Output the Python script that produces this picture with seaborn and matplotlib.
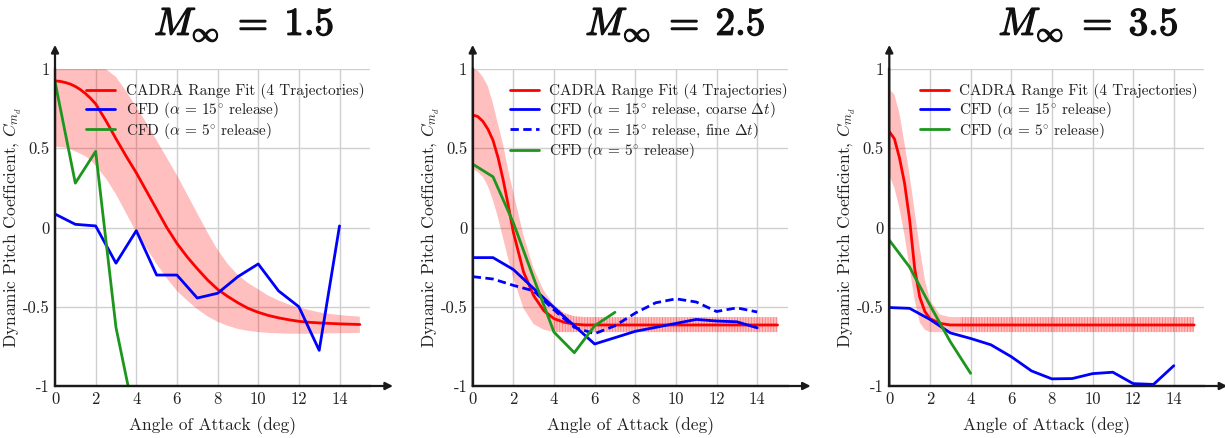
import matplotlib
matplotlib.use("Agg")
import matplotlib.pyplot as plt
import matplotlib.patheffects as pe
import numpy as np
import seaborn as sns

# ---------------- data ----------------
mach_titles = [r"$M_\infty\;=\;\mathbf{1.5}$", r"$M_\infty\;=\;\mathbf{2.5}$", r"$M_\infty\;=\;\mathbf{3.5}$"]

# angles at which the CADRA range fit and its envelope are tabulated (deg)
fit_aoa = [0, 0.25, 0.5, 0.75, 1, 1.25, 1.5, 1.75, 2, 2.5, 3, 3.5, 4, 4.5, 5, 5.5, 6, 6.5,
           7, 7.5, 8, 8.5, 9, 9.5, 10, 10.5, 11, 11.5, 12, 12.5, 13, 13.5, 14, 14.5, 15]

# M = 1.5
fit_m15 = [0.925, 0.922, 0.915, 0.905, 0.89, 0.87, 0.845, 0.815, 0.78, 0.675, 0.56, 0.45,
           0.345, 0.23, 0.115, 0.0, -0.10, -0.185, -0.26, -0.33, -0.39, -0.435, -0.475, -0.51,
           -0.535, -0.555, -0.57, -0.582, -0.592, -0.598, -0.602, -0.605, -0.608, -0.61, -0.612]
hi_m15 = [1.0, 1.0, 1.0, 1.0, 1.0, 1.0, 1.0, 1.0, 1.0, 1.0, 0.95, 0.86, 0.76, 0.66, 0.55, 0.44,
          0.33, 0.21, 0.09, -0.03, -0.14, -0.23, -0.30, -0.35, -0.39, -0.43, -0.46, -0.485,
          -0.505, -0.52, -0.535, -0.545, -0.552, -0.558, -0.562]
lo_m15 = [0.51, 0.508, 0.505, 0.495, 0.48, 0.465, 0.45, 0.425, 0.39, 0.31, 0.21, 0.09, -0.03,
          -0.13, -0.23, -0.32, -0.40, -0.46, -0.515, -0.56, -0.595, -0.62, -0.64, -0.652, -0.66,
          -0.665, -0.668, -0.67, -0.67, -0.67, -0.67, -0.668, -0.667, -0.666, -0.665]

# M = 2.5
fit_m25 = [0.71, 0.70, 0.67, 0.62, 0.55, 0.44, 0.30, 0.14, -0.03, -0.28, -0.43, -0.525, -0.575,
           -0.598, -0.61, -0.615, -0.615, -0.615, -0.615, -0.615, -0.615, -0.615, -0.615, -0.615,
           -0.615, -0.615, -0.615, -0.615, -0.615, -0.615, -0.615, -0.615, -0.615, -0.615, -0.615]
hi_m25 = [1.0, 0.99, 0.95, 0.89, 0.78, 0.65, 0.52, 0.36, 0.22, -0.05, -0.26, -0.40, -0.49, -0.54,
          -0.56, -0.565, -0.565, -0.565, -0.565, -0.565, -0.565, -0.565, -0.565, -0.565, -0.565,
          -0.565, -0.565, -0.565, -0.565, -0.565, -0.565, -0.565, -0.565, -0.565, -0.565]
lo_m25 = [0.37, 0.35, 0.32, 0.26, 0.17, 0.06, -0.07, -0.20, -0.32, -0.51, -0.61, -0.645, -0.66,
          -0.66, -0.66, -0.66, -0.66, -0.66, -0.66, -0.66, -0.66, -0.66, -0.66, -0.66, -0.66,
          -0.66, -0.66, -0.66, -0.66, -0.66, -0.66, -0.66, -0.66, -0.66, -0.66]

# M = 3.5
fit_m35 = [0.605, 0.56, 0.44, 0.28, 0.05, -0.26, -0.44, -0.53, -0.575, -0.605, -0.615, -0.615,
           -0.615, -0.615, -0.615, -0.615, -0.615, -0.615, -0.615, -0.615, -0.615, -0.615, -0.615,
           -0.615, -0.615, -0.615, -0.615, -0.615, -0.615, -0.615, -0.615, -0.615, -0.615, -0.615,
           -0.615]
hi_m35 = [0.87, 0.84, 0.72, 0.53, 0.33, 0.10, -0.13, -0.33, -0.46, -0.55, -0.565, -0.565, -0.565,
          -0.565, -0.565, -0.565, -0.565, -0.565, -0.565, -0.565, -0.565, -0.565, -0.565, -0.565,
          -0.565, -0.565, -0.565, -0.565, -0.565, -0.565, -0.565, -0.565, -0.565, -0.565, -0.565]
lo_m35 = [0.33, 0.25, 0.12, -0.05, -0.26, -0.46, -0.60, -0.645, -0.66, -0.66, -0.66, -0.66, -0.66,
          -0.66, -0.66, -0.66, -0.66, -0.66, -0.66, -0.66, -0.66, -0.66, -0.66, -0.66, -0.66,
          -0.66, -0.66, -0.66, -0.66, -0.66, -0.66, -0.66, -0.66, -0.66, -0.66]

# CFD free-flight samples, one value per degree of angle of attack
cfd15_m15 = [0.085, 0.02, 0.01, -0.225, -0.02, -0.30, -0.30, -0.445, -0.415, -0.31, -0.23,
             -0.40, -0.50, -0.775, 0.01]
cfd5_m15 = [0.92, 0.28, 0.48, -0.63, -1.25]

cfd15_coarse_m25 = [-0.19, -0.19, -0.265, -0.385, -0.505, -0.62, -0.735, -0.695, -0.655,
                    -0.63, -0.605, -0.58, -0.59, -0.595, -0.633]
cfd15_fine_m25 = [-0.31, -0.325, -0.365, -0.40, -0.52, -0.63, -0.67, -0.62, -0.54, -0.475,
                  -0.45, -0.47, -0.53, -0.507, -0.533]
cfd5_m25 = [0.40, 0.32, 0.03, -0.32, -0.66, -0.79, -0.62, -0.535]

cfd15_m35 = [-0.505, -0.51, -0.58, -0.665, -0.70, -0.74, -0.815, -0.905, -0.955, -0.953,
             -0.922, -0.913, -0.985, -0.99, -0.872]
cfd5_m35 = [-0.08, -0.25, -0.49, -0.72, -0.92]

lab_fit = "CADRA Range Fit (4 Trajectories)"
lab_15 = r"CFD ($\alpha\,=\,15^{\circ}$ release)"
lab_5 = r"CFD ($\alpha\,=\,5^{\circ}$ release)"
lab_15c = r"CFD ($\alpha\,=\,15^{\circ}$ release, coarse $\Delta t$)"
lab_15f = r"CFD ($\alpha\,=\,15^{\circ}$ release, fine $\Delta t$)"

x_major = [0, 2, 4, 6, 8, 10, 12, 14]
y_major = [-1, -0.5, 0, 0.5, 1]
y_major_labels = ["-1", "-0.5", "0", "0.5", "1"]

# ---------------- style ----------------
sns.set_theme(style="white")
plt.rcParams.update({
    "font.family": ["cmr10", "DejaVu Serif"],
    "mathtext.fontset": "cm",
    "axes.unicode_minus": False,
    "axes.formatter.use_mathtext": True,
    "hatch.linewidth": 0.7,
})

RED = "#ff0000"
BLUE = "#0000ff"
GREEN = "#1c961c"
BAND = (1.0, 0.0, 0.0, 0.25)
STRIPE = (1.0, 0.0, 0.0, 0.30)
TEXT = "#222222"

fig = plt.figure(figsize=(12.25, 4.38), dpi=100)
W, H = 1225, 438
ax_left = [55, 472.7, 889.3]
axes = [fig.add_axes([l / W, 52 / H, 315 / W, 317 / H]) for l in ax_left]


def style_axes(ax):
    ax.set_xlim(0, 15.5)
    ax.set_ylim(-1, 1)
    for s in ("top", "right"):
        ax.spines[s].set_visible(False)
    for s in ("left", "bottom"):
        ax.spines[s].set_color("k")
        ax.spines[s].set_linewidth(1.6)
    ax.set_xticks(x_major)
    ax.set_xticklabels([str(v) for v in x_major])
    ax.set_xticks(np.arange(1, 16, 2), minor=True)
    ax.set_yticks(y_major)
    ax.set_yticklabels(y_major_labels)
    ax.set_yticks([-0.75, -0.25, 0.25, 0.75], minor=True)
    ax.tick_params(axis="both", which="both", direction="in", colors="k", width=1.3,
                   labelsize=12, labelcolor=TEXT)
    ax.tick_params(axis="x", which="both", length=7, pad=4)
    ax.tick_params(axis="y", which="both", length=6, pad=4)
    ax.grid(True, which="major", color="#cfcfcf", lw=1.0)
    ax.set_axisbelow(True)
    ax.set_xlabel("Angle of Attack (deg)", fontsize=12.5, labelpad=7, color=TEXT)
    ax.set_ylabel(r"Dynamic Pitch Coefficient, $C_{m_d}$", fontsize=12.5, color=TEXT)
    ax.yaxis.set_label_coords(-0.098, 0.5)
    arrow = dict(arrowstyle="-|>", color="k", lw=1.6, mutation_scale=11, shrinkA=0, shrinkB=0)
    ax.annotate("", xy=(1.073, 0), xytext=(0, 0), xycoords="axes fraction",
                arrowprops=arrow, annotation_clip=False)
    ax.annotate("", xy=(0, 1.076), xytext=(0, 0), xycoords="axes fraction",
                arrowprops=arrow, annotation_clip=False)


def draw_band(ax, lo, hi, stripe_from=None):
    x = np.asarray(fit_aoa)
    ax.fill_between(x, lo, hi, facecolor=BAND, edgecolor="none", lw=0, zorder=1)
    if stripe_from is not None:
        ax.fill_between(x, lo, hi, where=x >= stripe_from, facecolor="none",
                        edgecolor=STRIPE, hatch="||||||", lw=0, zorder=1)


aoa = list(range(15))
line_kw = dict(estimator=None, sort=False, lw=2.0)

# M = 1.5
ax = axes[0]
draw_band(ax, lo_m15, hi_m15)
sns.lineplot(x=fit_aoa, y=fit_m15, ax=ax, color=RED, label=lab_fit, **line_kw)
sns.lineplot(x=aoa, y=cfd15_m15, ax=ax, color=BLUE, label=lab_15, **line_kw)
sns.lineplot(x=aoa[:len(cfd5_m15)], y=cfd5_m15, ax=ax, color=GREEN, label=lab_5, **line_kw)

# M = 2.5
ax = axes[1]
draw_band(ax, lo_m25, hi_m25, stripe_from=3.8)
sns.lineplot(x=fit_aoa, y=fit_m25, ax=ax, color=RED, label=lab_fit, **line_kw)
sns.lineplot(x=aoa, y=cfd15_coarse_m25, ax=ax, color=BLUE, label=lab_15c, **line_kw)
sns.lineplot(x=aoa, y=cfd15_fine_m25, ax=ax, color=BLUE, label=lab_15f,
             linestyle=(0, (3.0, 1.6)), **line_kw)
sns.lineplot(x=aoa[:len(cfd5_m25)], y=cfd5_m25, ax=ax, color=GREEN, label=lab_5, **line_kw)

# M = 3.5
ax = axes[2]
draw_band(ax, lo_m35, hi_m35, stripe_from=3.3)
sns.lineplot(x=fit_aoa, y=fit_m35, ax=ax, color=RED, label=lab_fit, **line_kw)
sns.lineplot(x=aoa, y=cfd15_m35, ax=ax, color=BLUE, label=lab_15, **line_kw)
sns.lineplot(x=aoa[:len(cfd5_m35)], y=cfd5_m35, ax=ax, color=GREEN, label=lab_5, **line_kw)

legend_x = [0.089, 0.108, 0.087]
title_x = [0.60, 0.643, 0.632]
for ax, title, lx, tx in zip(axes, mach_titles, legend_x, title_x):
    style_axes(ax)
    leg = ax.legend(loc="upper left", bbox_to_anchor=(lx, 0.965), frameon=False,
                    fontsize=11, handlelength=1.9, handletextpad=0.7, labelspacing=0.05,
                    borderaxespad=0, borderpad=0.2)
    for t in leg.get_texts():
        t.set_color(TEXT)
    ax.text(tx, 1.14, title, transform=ax.transAxes, ha="center", va="center",
            fontsize=28, color="#111111",
            path_effects=[pe.withStroke(linewidth=1.0, foreground="#111111")])

fig.savefig("out.png", dpi=100)
